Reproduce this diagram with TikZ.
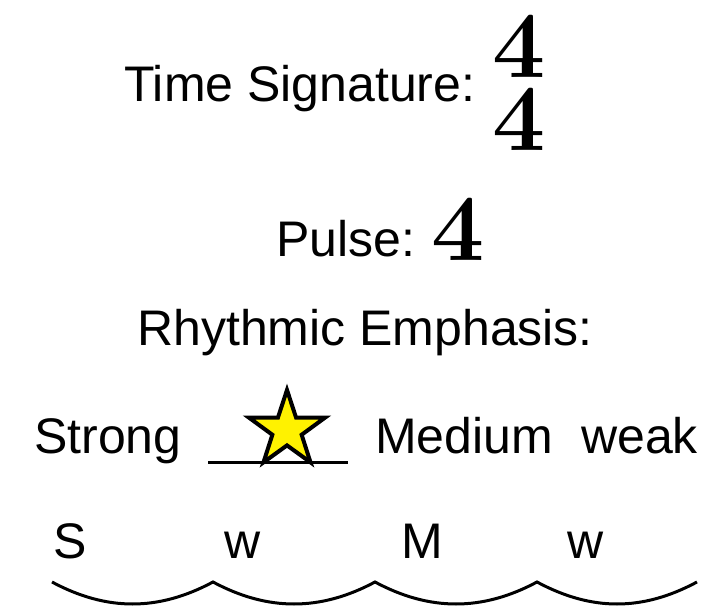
\documentclass[tikz,border=0pt]{standalone}
\usepackage{fontspec}
\setsansfont{Liberation Sans}
\usetikzlibrary{shapes.geometric}

\begin{document}
\begin{tikzpicture}[
    x=0.75pt, y=-0.75pt,
    word/.style={font=\sffamily\fontsize{37.5}{40}\selectfont, inner sep=0pt, anchor=base west},
    digit/.style={font=\rmfamily\bfseries\fontsize{71}{75}\selectfont, inner sep=0pt,
      text height=45pt, text depth=0pt, anchor=base west},
    stroke/.style={line width=2.25pt},
  ]
    \useasboundingbox (0,0) rectangle (728,616);

    % time signature
    \node[word] (timesig) at (124,102) {Time Signature:};
    \node[digit] (upper) at (492,78) {4};
    \node[digit] (lower) at (492,151) {4};

    % pulse
    \node[word] (pulse) at (276,257) {Pulse:};
    \node[digit] (pulsenum) at (431,261) {4};

    % emphasis
    \node[word] (emphasis) at (137,346) {Rhythmic Emphasis:};
    \node[word] (strong) at (34,453) {Strong};
    \node[word] (medium) at (375,453) {Medium};
    \node[word] (weak) at (581,453) {weak};
    \coordinate (blankL) at (208,462);
    \coordinate (blankR) at (348,462);
    \draw[stroke] (blankL) -- (blankR);
    \node[star, star points=5, star point ratio=2.6, draw, line width=3pt, fill=yellow,
      minimum size=60pt, inner sep=0pt] (star) at (287,430) {};

    % beats
    \node[word] (beat1) at (53,558) {S};
    \node[word] (beat2) at (224,558) {w};
    \node[word] (beat3) at (401,558) {M};
    \node[word] (beat4) at (567,558) {w};

    \coordinate (b0) at (52,582);
    \coordinate (b1) at (213,582);
    \coordinate (b2) at (375,582);
    \coordinate (b3) at (537,582);
    \coordinate (b4) at (697,582);
    \draw[stroke, line join=miter]
      (b0) .. controls ([xshift=41pt,yshift=-22pt]b0) and ([xshift=-41pt,yshift=-22pt]b1) .. (b1)
           .. controls ([xshift=41pt,yshift=-22pt]b1) and ([xshift=-41pt,yshift=-22pt]b2) .. (b2)
           .. controls ([xshift=41pt,yshift=-22pt]b2) and ([xshift=-41pt,yshift=-22pt]b3) .. (b3)
           .. controls ([xshift=41pt,yshift=-22pt]b3) and ([xshift=-41pt,yshift=-22pt]b4) .. (b4);
  \end{tikzpicture}
\end{document}
